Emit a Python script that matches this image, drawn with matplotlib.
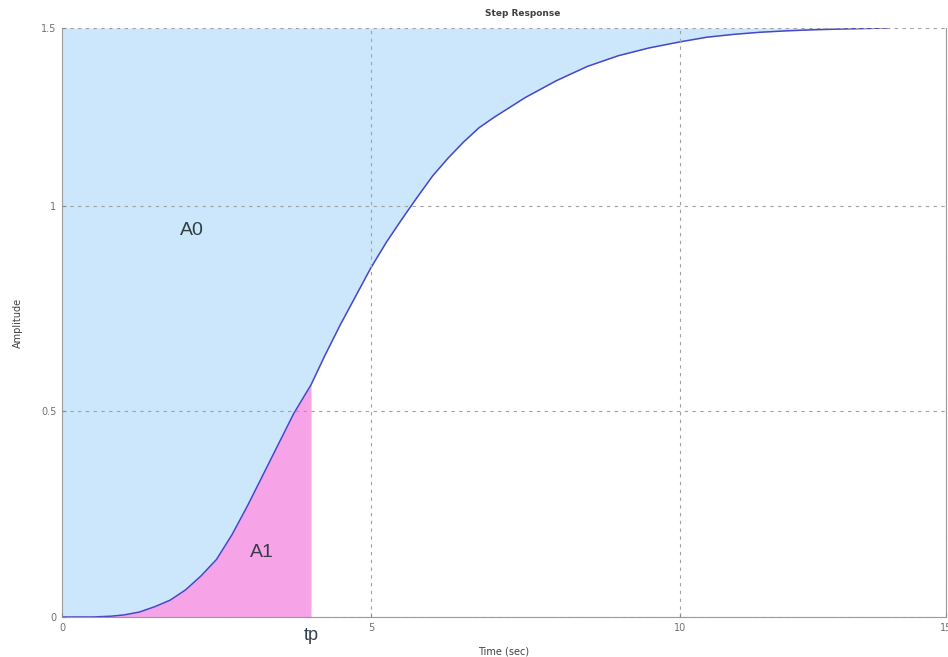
import numpy as np
import matplotlib
matplotlib.use('Agg')
import matplotlib.pyplot as plt

# step response
t = [0, 0.5, 0.8, 1.0, 1.25, 1.5, 1.75, 2.0, 2.25, 2.5, 2.75, 3.0, 3.25, 3.5,
     3.75, 4.03, 4.25, 4.5, 4.75, 5.0, 5.25, 5.5, 5.75, 6.0, 6.25, 6.5, 6.75,
     7.0, 7.5, 8.0, 8.5, 9.0, 9.5, 10.0, 10.5, 11.0, 11.5, 12.0, 12.5, 13.0, 13.9]
y = [0, 0, 0.002, 0.005, 0.012, 0.025, 0.041, 0.066, 0.10, 0.14, 0.20, 0.27,
     0.345, 0.42, 0.495, 0.565, 0.635, 0.71, 0.78, 0.85, 0.912, 0.968, 1.025,
     1.085, 1.135, 1.18, 1.22, 1.25, 1.305, 1.352, 1.392, 1.422, 1.444, 1.461,
     1.474, 1.482, 1.488, 1.492, 1.495, 1.497, 1.5]
tp = 4.03
y_final = 1.5
x_ticks = [0, 5, 10, 15]
y_ticks = [0, 0.5, 1, 1.5]
y_tick_labels = ['0', '0.5', '1', '1.5']


# the screenshot is squeezed above y=1 and right of x=10
def fwd_x(v):
    v = np.asarray(v, dtype=float)
    return np.where(v <= 10, v, 10 + (v - 10) * 0.861)


def inv_x(v):
    v = np.asarray(v, dtype=float)
    return np.where(v <= 10, v, 10 + (v - 10) / 0.861)


def fwd_y(v):
    v = np.asarray(v, dtype=float)
    return np.where(v <= 1, v, 1 + (v - 1) * 0.866)


def inv_y(v):
    v = np.asarray(v, dtype=float)
    return np.where(v <= 1, v, 1 + (v - 1) / 0.866)


t = np.array(t); y = np.array(y)

fig = plt.figure(figsize=(9.48, 6.57), dpi=100)
ax = fig.add_axes([62 / 948, 40 / 657, 884 / 948, 589 / 657])
ax.set_xscale('function', functions=(fwd_x, inv_x))
ax.set_yscale('function', functions=(fwd_y, inv_y))

ax.fill_between(t, y, y_final, color='#cce7fb', lw=0)
m = t <= tp
ax.fill_between(t[m], 0, y[m], color='#f7a3e8', lw=0)
ax.plot(t, y, color='#4646c8', lw=1.1)

ax.set_xlim(0, 15)
ax.set_ylim(0, 1.5)
ax.set_xticks(x_ticks)
ax.set_xticklabels([str(v) for v in x_ticks])
ax.set_yticks(y_ticks)
ax.set_yticklabels(y_tick_labels)
ax.minorticks_off()
ax.tick_params(direction='in', length=3, labelsize=7, colors='#8a8a8a',
               labelcolor='#707070', pad=4)
ax.grid(True, color='#a0a0a0', linestyle=(0, (3, 4)), lw=0.8)
ax.set_axisbelow(False)
for s in ['left', 'bottom', 'right']:
    ax.spines[s].set_color('#999999')
ax.spines['top'].set_visible(False)

ax.text(2.1, 0.94, 'A0', fontsize=14, color='#2f3f3f', ha='center', va='center',
        family='Liberation Sans')
ax.text(3.24, 0.156, 'A1', fontsize=14, color='#3a3a4a', ha='center', va='center',
        family='Liberation Sans')
ax.text(tp, -0.025, 'tp', fontsize=13, color='#2f3f4f', ha='center', va='top',
        family='Liberation Sans')

ax.set_xlabel('Time (sec)', fontsize=7, color='#404040', labelpad=10)
ax.set_ylabel('Amplitude', fontsize=7, color='#404040', labelpad=13)
fig.text(523 / 948, 1 - 14 / 657, 'Step Response', fontsize=6.5, fontweight='bold',
         color='#404040', ha='center', va='center')

fig.savefig('out.png', dpi=100)
